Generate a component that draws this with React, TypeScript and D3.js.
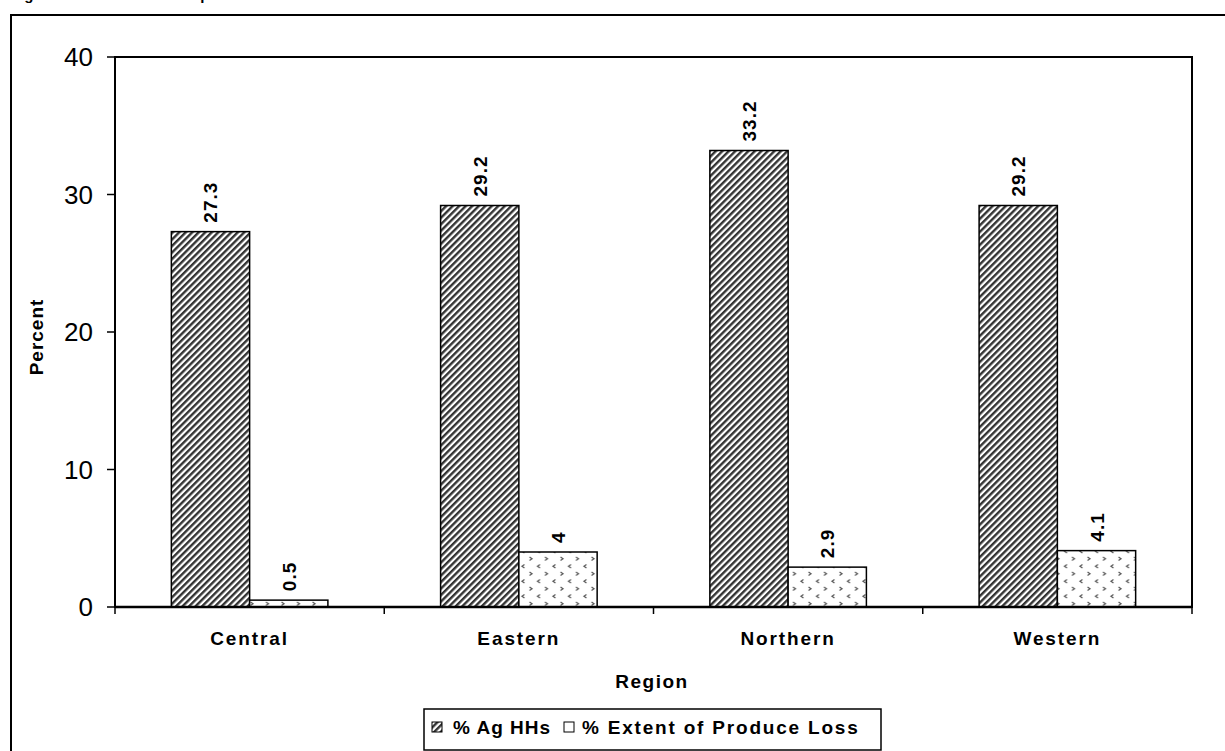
import React from "react";
import * as d3 from "d3";

const categories = ["Central", "Eastern", "Northern", "Western"];
const seriesNames = ["% Ag HHs", "% Extent of Produce Loss"];
const agHHs = [27.3, 29.2, 33.2, 29.2];
const produceLoss = [0.5, 4, 2.9, 4.1];
const yTicks = [0, 10, 20, 30, 40];
const xTitle = "Region";
const yTitle = "Percent";
const cutTitle = "Figure 6.3: Households Reported Produce Loss";

const W = 1225;
const H = 751;
const plot = { left: 115, top: 57, right: 1192, bottom: 607 };

export default function App() {
  const x = d3.scaleBand<string>().domain(categories).range([plot.left, plot.right]).paddingInner(0).paddingOuter(0);
  const inner = d3.scaleBand<string>().domain(seriesNames).range([0, x.bandwidth()]).paddingInner(0).paddingOuter(0.72);
  const y = d3.scaleLinear().domain([0, 40]).range([plot.bottom, plot.top]);
  const series = [agHHs, produceLoss];
  const fills = ["url(#hatch)", "url(#dots)"];
  const font = "Arial, 'Liberation Sans', sans-serif";
  const boundaries = categories.map((c) => x(c) as number).concat([plot.right]);

  return (
    <svg width={W} height={H} style={{ position: "absolute", left: 0, top: 0, background: "#fff" }} fontFamily={font}>
      <defs>
        <pattern id="hatch" width="4.6" height="4.6" patternUnits="userSpaceOnUse" patternTransform="rotate(45)">
          <rect width="4.6" height="4.6" fill="#fff" />
          <line x1="1.2" y1="0" x2="1.2" y2="4.6" stroke="#333" strokeWidth="2.4" />
        </pattern>
        <pattern id="dots" width="15.5" height="15" patternUnits="userSpaceOnUse" x={0} y={0}>
          <rect width="15.5" height="15" fill="#fff" />
          <path d="M2.5,2 L5,3.8 L2.5,5.6" fill="none" stroke="#555" strokeWidth="1.2" />
          <path d="M13,9.5 L10.5,11.3 L13,13.1" fill="none" stroke="#555" strokeWidth="1.2" />
        </pattern>
      </defs>
      <rect x={0} y={0} width={W} height={H} fill="#fff" />
      <text x={11} y={0} fontSize={15} fontWeight="bold" fill="#000">{cutTitle}</text>
      <rect x={11} y={15} width={W + 20} height={H + 20} fill="none" stroke="#000" strokeWidth={2} />

      <rect x={plot.left} y={plot.top} width={plot.right - plot.left} height={plot.bottom - plot.top} fill="#fff" stroke="#000" strokeWidth={2} />

      {series.map((vals, si) =>
        categories.map((c, ci) => {
          const bx = (x(c) as number) + (inner(seriesNames[si]) as number);
          const by = y(vals[ci]);
          return (
            <rect key={`${si}-${ci}`} x={bx} y={by} width={inner.bandwidth()} height={plot.bottom - by} fill={fills[si]} stroke="#000" strokeWidth={1.5} />
          );
        })
      )}

      {series.map((vals, si) =>
        categories.map((c, ci) => {
          const cx = (x(c) as number) + (inner(seriesNames[si]) as number) + inner.bandwidth() / 2 + 7;
          const by = y(vals[ci]) - 9;
          return (
            <text key={`l${si}-${ci}`} transform={`translate(${cx},${by}) rotate(-90)`} fontSize={19} fontWeight="bold" letterSpacing={1} fill="#000">
              {String(vals[ci])}
            </text>
          );
        })
      )}

      <line x1={plot.left} x2={plot.right} y1={plot.bottom} y2={plot.bottom} stroke="#000" strokeWidth={2.5} />
      {boundaries.map((bx, i) => (
        <line key={`xt${i}`} x1={bx} x2={bx} y1={plot.bottom} y2={plot.bottom + 7} stroke="#000" strokeWidth={1.5} />
      ))}
      {categories.map((c) => (
        <text key={c} x={(x(c) as number) + x.bandwidth() / 2} y={645} textAnchor="middle" fontSize={19} fontWeight="bold" letterSpacing={1.9} fill="#000">
          {c}
        </text>
      ))}

      {yTicks.map((t) => (
        <g key={`yt${t}`}>
          <line x1={plot.left - 8} x2={plot.left} y1={y(t)} y2={y(t)} stroke="#000" strokeWidth={1.5} />
          <text x={93} y={y(t) + 9} textAnchor="end" fontSize={26} fill="#000">{t}</text>
        </g>
      ))}

      <text transform={`translate(43,337) rotate(-90)`} textAnchor="middle" fontSize={19} fontWeight="bold" letterSpacing={1} fill="#000">
        {yTitle}
      </text>
      <text x={652} y={688} textAnchor="middle" fontSize={19} fontWeight="bold" letterSpacing={1.5} fill="#000">
        {xTitle}
      </text>

      <rect x={424} y={709} width={457} height={41} fill="#fff" stroke="#000" strokeWidth={1.5} />
      <rect x={432} y={722} width={10} height={10} fill="url(#hatch)" stroke="#000" strokeWidth={1} />
      <text x={453} y={734} fontSize={19} fontWeight="bold" letterSpacing={1} fill="#000">{seriesNames[0]}</text>
      <rect x={564} y={722} width={10} height={10} fill="#fff" stroke="#000" strokeWidth={1} />
      <text x={582} y={734} fontSize={19} fontWeight="bold" letterSpacing={1.8} fill="#000">{seriesNames[1]}</text>
    </svg>
  );
}
